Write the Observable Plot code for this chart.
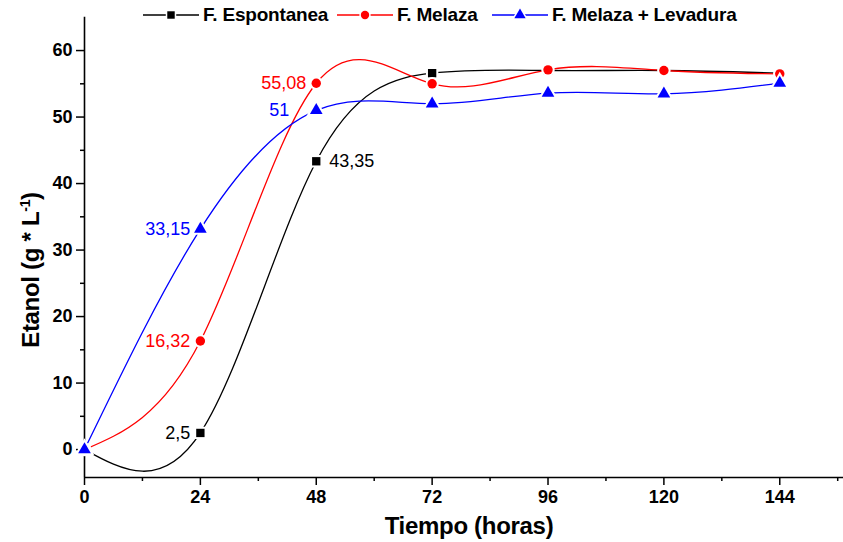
<!DOCTYPE html>
<html>
<head>
<meta charset="utf-8">
<script src="https://cdn.jsdelivr.net/npm/d3@7"></script>
<script src="https://cdn.jsdelivr.net/npm/@observablehq/plot@0.6"></script>
<style>
  html, body { margin: 0; padding: 0; background: white; }
  #wrap { position: relative; width: 843px; height: 542px; font-family: 'Liberation Sans', Arial, sans-serif; }
  #chart { position: absolute; left: 0; top: 0; }
  #wrap g[aria-label$="tick label"] text, #wrap g[aria-label$="tick label"] { font-weight: bold; }
  .title { position: absolute; white-space: nowrap; font-weight: bold; font-size: 24px; letter-spacing: -0.3px; color: #000; }
  .leg { position: absolute; top: 4px; height: 22px; display: flex; align-items: center; white-space: nowrap; font-weight: bold; font-size: 19px; letter-spacing: -0.2px; color: #000; }
  .leg svg { display: block; margin-right: 4px; }
</style>
</head>
<body>
<div id="wrap">
  <div id="chart"></div>
  <div id="legend"></div>
  <div class="title" style="left:31px; top:270px; transform: translate(-50%,-50%) rotate(-90deg);">Etanol (g * L<sup style="font-size:14px; vertical-align: 9px;">-1</sup>)</div>
  <div class="title" style="left:469px; top:526px; transform: translate(-50%,-50%);">Tiempo (horas)</div>
</div>
<script>
// ---- data ----
const hours = [0, 24, 48, 72, 96, 120, 144];
const seriesNames = ["F. Espontanea", "F. Melaza", "F. Melaza + Levadura"];
const espontanea = [0, 2.5, 43.35, 56.6, 57.0, 57.0, 56.6];
const melaza     = [0, 16.32, 55.08, 55.0, 57.1, 57.0, 56.5];
const levadura   = [0, 33.15, 51, 52.0, 53.6, 53.5, 55.1];
const labelsEspontanea = [null, "2,5", "43,35", null, null, null, null];
const labelsMelaza     = [null, "16,32", "55,08", null, null, null, null];
const labelsLevadura   = [null, "33,15", "51", null, null, null, null];
const xMajorTicks = [0, 24, 48, 72, 96, 120, 144];
const xMinorTicks = [12, 36, 60, 84, 108, 132, 156];
const yMajorTicks = [0, 10, 20, 30, 40, 50, 60];
const yMinorTicks = [5, 15, 25, 35, 45, 55];
const xDomain = [0, 157.2];
const yDomain = [-4.2, 65];

const colors = ["#000000", "#ff0000", "#0000ff"];
const symbols = ["square", "circle", "triangle"];

const allValues = [espontanea, melaza, levadura];
const allLabels = [labelsEspontanea, labelsMelaza, labelsLevadura];
const rows = [];
seriesNames.forEach((s, i) => {
  hours.forEach((h, j) => rows.push({series: s, hour: h, value: allValues[i][j], label: allLabels[i][j]}));
});
const labelled = rows.filter(d => d.label);
const font = "'Liberation Sans', Arial, sans-serif";

const chart = Plot.plot({
  width: 843, height: 542,
  marginLeft: 84, marginRight: 0, marginTop: 16.8, marginBottom: 65,
  x: {domain: xDomain},
  y: {domain: yDomain},
  color: {domain: seriesNames, range: colors},
  symbol: {domain: seriesNames, range: symbols},
  style: {fontFamily: font, fontSize: "18px", background: "white", overflow: "visible"},
  marks: [
    Plot.axisY({ticks: yMinorTicks, tickSize: 4, tickFormat: () => "", label: null, strokeWidth: 1.5}),
    Plot.axisY({ticks: yMajorTicks, tickSize: 8, tickPadding: 4, label: null, fontWeight: "bold", fontSize: 18, strokeWidth: 1.5}),
    Plot.axisX({ticks: xMinorTicks, tickSize: 4, tickFormat: () => "", label: null, strokeWidth: 1.5}),
    Plot.axisX({ticks: xMajorTicks, tickSize: 8, tickPadding: 5, label: null, fontWeight: "bold", fontSize: 18, strokeWidth: 1.5}),
    Plot.ruleX([xDomain[0]], {strokeWidth: 1.6}),
    Plot.ruleY([yDomain[0]], {strokeWidth: 1.6}),
    Plot.line(rows, {x: "hour", y: "value", z: "series", stroke: "series", curve: "natural", strokeWidth: 1.3}),
    Plot.dot(rows, {x: "hour", y: "value", symbol: "series", fill: "series", r: 4.7, stroke: "white", strokeWidth: 4, paintOrder: "stroke"}),
    Plot.text(labelled.filter(d => d.label !== "51" && d.label !== "43,35"), {x: "hour", y: "value", text: "label", fill: "series", textAnchor: "end", dx: -10, fontSize: 18}),
    Plot.text(labelled.filter(d => d.label === "51"), {x: "hour", y: "value", text: "label", fill: "series", textAnchor: "end", dx: -27, fontSize: 18}),
    Plot.text(labelled.filter(d => d.label === "43,35"), {x: "hour", y: "value", text: "label", fill: "series", textAnchor: "start", dx: 13, fontSize: 18})
  ]
});
document.getElementById("chart").appendChild(chart);

// ---- legend ----
const legendLefts = [143, 337, 492];
const legend = document.getElementById("legend");
seriesNames.forEach((s, i) => {
  const item = document.createElement("div");
  item.className = "leg";
  item.style.left = legendLefts[i] + "px";
  const ns = "http://www.w3.org/2000/svg";
  const svg = document.createElementNS(ns, "svg");
  svg.setAttribute("width", 56); svg.setAttribute("height", 22);
  const line = document.createElementNS(ns, "line");
  line.setAttribute("x1", 0); line.setAttribute("x2", 56);
  line.setAttribute("y1", 11); line.setAttribute("y2", 11);
  line.setAttribute("stroke", colors[i]); line.setAttribute("stroke-width", 1.3);
  svg.appendChild(line);
  const sym = {square: d3.symbolSquare, circle: d3.symbolCircle, triangle: d3.symbolTriangle}[symbols[i]];
  const path = document.createElementNS(ns, "path");
  path.setAttribute("d", d3.symbol(sym, Math.PI * 4.2 * 4.2)());
  path.setAttribute("transform", "translate(28,11)");
  path.setAttribute("fill", colors[i]);
  path.setAttribute("stroke", "white"); path.setAttribute("stroke-width", 3);
  path.setAttribute("paint-order", "stroke");
  svg.appendChild(path);
  item.appendChild(svg);
  const span = document.createElement("span");
  span.textContent = s;
  item.appendChild(span);
  legend.appendChild(item);
});
</script>
</body>
</html>
